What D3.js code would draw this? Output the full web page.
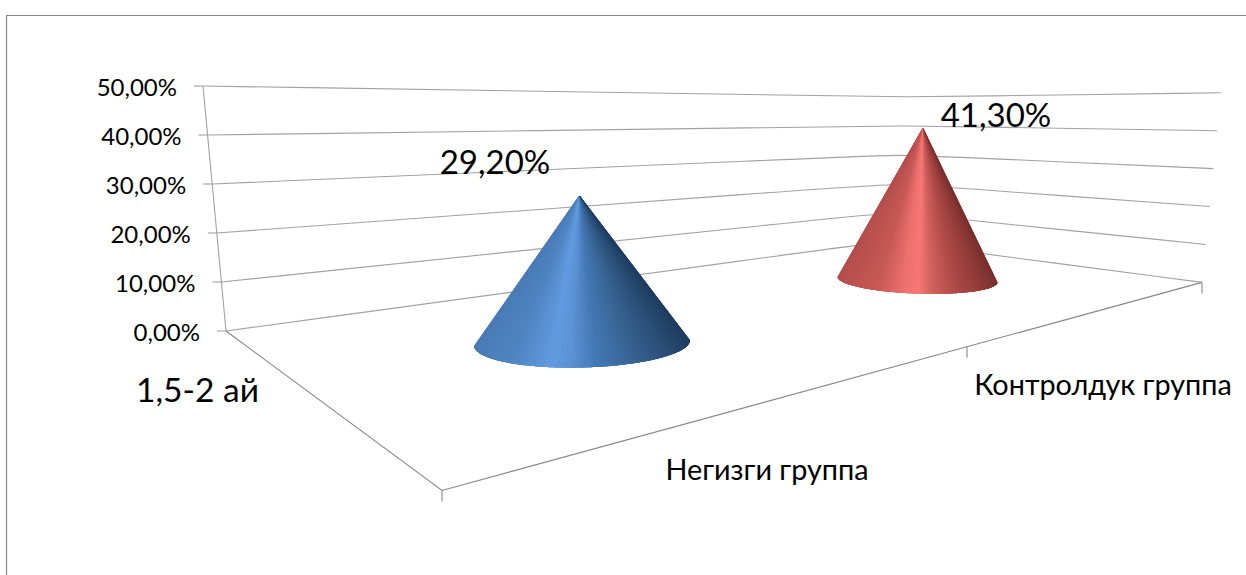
<!DOCTYPE html>
<html lang="ky">
<head>
<meta charset="utf-8">
<script src="https://cdn.jsdelivr.net/npm/d3@7"></script>
<style>
  html, body { margin: 0; background: #fff; }
  svg { display: block; }
  text { font-family: Lato, "Open Sans", sans-serif; fill: #000; }
</style>
</head>
<body>
<svg id="chart" width="1246" height="575"></svg>
<script>
// Chart values
const categories = ["Негизги группа", "Контролдук группа"];
const seriesName = "1,5-2 ай";
const seriesValues = [29.2, 41.3];
const valueLabels = ["29,20%", "41,30%"];
const tickValues = [0, 10, 20, 30, 40, 50];
const tickLabels = ["0,00%", "10,00%", "20,00%", "30,00%", "40,00%", "50,00%"];

const svg = d3.select("#chart");
const frameColor = "#868686";
const gridColor = "#a2a2a2";

// Outer chart frame; its right and bottom edges run past the page
svg.append("path")
  .attr("d", "M6.5,575V15.5H1246")
  .attr("fill", "none")
  .attr("stroke", frameColor)
  .attr("stroke-width", 1.2);

// The two back walls share a hidden corner; each wall edge gets its own value scales
const wallEdge = (xRange, yRange) => ({
  x: d3.scaleLinear().domain([0, 50]).range(xRange),
  y: d3.scaleLinear().domain([0, 50]).range(yRange)
});
const leftEdge = wallEdge([226, 203], [331, 86]);
const cornerEdge = wallEdge([887, 908], [241, 97]);
const rightEdge = wallEdge([1202, 1221], [282.4, 92.8]);

// Gridlines run straight along each wall and round off softly near the corner
const gridLine = d3.line().curve(d3.curveBasis);
const gridPoints = v => {
  const corner = [cornerEdge.x(v), cornerEdge.y(v)];
  const left = [leftEdge.x(v), leftEdge.y(v)];
  const right = [rightEdge.x(v), rightEdge.y(v)];
  return [left, left, d3.interpolate(corner, left)(0.09), corner,
          d3.interpolate(corner, right)(0.15), right, right];
};
svg.append("g").selectAll("path")
  .data(tickValues)
  .join("path")
  .attr("d", v => gridLine(gridPoints(v)))
  .attr("fill", "none")
  .attr("stroke", gridColor)
  .attr("stroke-width", 1.1);

// Value axis along the left wall edge
svg.append("line")
  .attr("x1", leftEdge.x(0)).attr("y1", leftEdge.y(0))
  .attr("x2", leftEdge.x(50)).attr("y2", leftEdge.y(50))
  .attr("stroke", gridColor).attr("stroke-width", 1.1);
svg.append("g").selectAll("line")
  .data(tickValues)
  .join("line")
  .attr("x1", v => leftEdge.x(v) - 9).attr("x2", v => leftEdge.x(v))
  .attr("y1", v => leftEdge.y(v)).attr("y2", v => leftEdge.y(v))
  .attr("stroke", gridColor).attr("stroke-width", 1.1);
svg.append("g").selectAll("text")
  .data(tickValues)
  .join("text")
  .attr("x", v => leftEdge.x(v) - 26)
  .attr("y", v => leftEdge.y(v) + 9.5)
  .attr("text-anchor", "end")
  .attr("font-size", 24)
  .text((v, i) => tickLabels[i]);

// Floor edges and category ticks
const floorBack = [226, 331], floorFront = [442, 490.5], floorRight = [1202, 282.4];
svg.append("path")
  .attr("d", d3.line()([floorBack, floorFront, floorRight]))
  .attr("fill", "none").attr("stroke", frameColor).attr("stroke-width", 1.1);
const categoryAxisT = d3.scaleLinear().domain([0, 1, 2]).range([442, 967, 1202]);
const categoryAxisY = d3.scaleLinear().domain([442, 1202]).range([490.5, 282.4]);
svg.append("g").selectAll("line")
  .data([0, 1, 2])
  .join("line")
  .attr("x1", i => categoryAxisT(i)).attr("x2", i => categoryAxisT(i))
  .attr("y1", i => categoryAxisY(categoryAxisT(i)))
  .attr("y2", i => categoryAxisY(categoryAxisT(i)) + 11)
  .attr("stroke", frameColor).attr("stroke-width", 1.1);

// Cones: every cone stands on an ellipse, with its own height scale from the depth it sits at
const coneStyles = [
  { cx: 582, cy: 343, rx: 108, ry: 24.5, tilt: -1.5, top: 253, lean: -2.6,
    shadeAt: [-1, -0.65, -0.3, -0.12, 0.12, 0.45, 0.78, 1],
    stops: ["#4a7cb8", "#5084c2", "#629ae0", "#5c93d6", "#4479b6", "#386594", "#2a4f78", "#1f3d60"],
    labelX: 495, labelY: 174 },
  { cx: 917.5, cy: 279.6, rx: 80, ry: 14, tilt: 2, top: 184, lean: 5.4,
    shadeAt: [-1, -0.5, -0.18, 0.02, 0.2, 0.5, 0.8, 1],
    stops: ["#b54e4c", "#c75956", "#ec706e", "#f67876", "#d0605d", "#ad4a47", "#913b39", "#7a302e"],
    labelX: 996, labelY: 127 }
];

const coneLayer = svg.append("g");
const facetCount = 160;
seriesValues.forEach((value, i) => {
  const st = coneStyles[i];
  const height = d3.scaleLinear().domain([0, 50]).range([0, st.top]);
  const leanX = d3.scaleLinear().domain([0, 50]).range([0, st.lean * 50 / value]);
  const apex = [st.cx + leanX(value), st.cy - height(value)];
  const tilt = st.tilt * Math.PI / 180;
  const rimPoint = a => {
    const ex = st.rx * Math.cos(a), ey = st.ry * Math.sin(a);
    return [st.cx + ex * Math.cos(tilt) - ey * Math.sin(tilt),
            st.cy + ex * Math.sin(tilt) + ey * Math.cos(tilt)];
  };
  // Shading runs across the base, so the facets converge on the apex
  const shade = d3.scaleLinear()
    .domain(st.shadeAt)
    .range(st.stops)
    .interpolate(d3.interpolateRgb);
  // Each facet overlaps the next few, painted left to right, which leaves no seams
  const angle = k => Math.PI * (1 - Math.min(k, facetCount) / facetCount);
  const facets = d3.range(facetCount).map(k => ({
    rim: d3.range(k, k + 5).map(angle),
    u: Math.cos(angle(k + 0.5))
  }));
  coneLayer.append("g").selectAll("path")
    .data(facets)
    .join("path")
    .attr("d", f => d3.line()([apex, ...f.rim.map(rimPoint)]) + "Z")
    .attr("fill", f => shade(f.u));
  svg.append("text")
    .attr("x", st.labelX).attr("y", st.labelY)
    .attr("text-anchor", "middle")
    .attr("font-size", 33)
    .text(valueLabels[i]);
});

// Series name at the depth axis, category names below the floor
svg.append("text").attr("x", 197.5).attr("y", 402).attr("text-anchor", "middle")
  .attr("font-size", 33.5).text(seriesName);
svg.append("text").attr("x", 767).attr("y", 480).attr("text-anchor", "middle")
  .attr("font-size", 28.8).text(categories[0]);
svg.append("text").attr("x", 1103).attr("y", 395).attr("text-anchor", "middle")
  .attr("font-size", 28.8).text(categories[1]);
</script>
</body>
</html>
